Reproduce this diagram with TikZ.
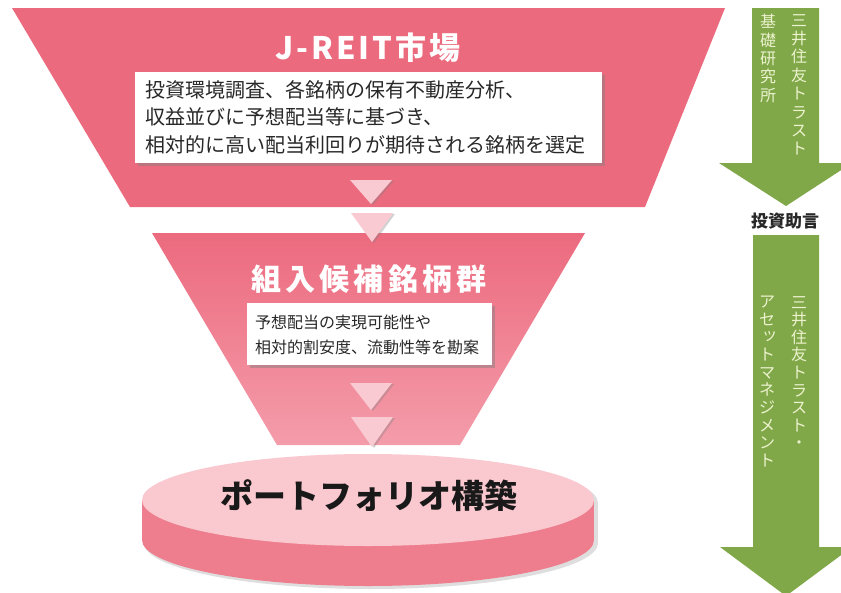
\documentclass[tikz,border=0pt]{standalone}
\usepackage{fontspec}
\newfontfamily\jp{Noto Sans CJK JP}
\usetikzlibrary{shadows}
\definecolor{funnel}{RGB}{236,106,126}
\definecolor{funnellight}{RGB}{244,156,170}
\definecolor{disktop}{RGB}{250,200,207}
\definecolor{diskside}{RGB}{238,126,142}
\definecolor{diskshade}{RGB}{222,222,222}
\definecolor{tri}{RGB}{249,202,210}
\definecolor{arrowgreen}{RGB}{128,168,72}
\definecolor{arrowtext}{RGB}{236,242,206}
\definecolor{boxtext}{RGB}{40,40,40}
\newcommand{\smalltsu}{\makebox[1em][l]{\hspace{0.16em}\raisebox{0.18em}{ッ}}}
\tikzset{
  infobox/.style={fill=white, draw=none, drop shadow={opacity=0.45, shadow xshift=3pt, shadow yshift=-3pt}},
  boxtxt/.style={anchor=west, align=left, inner sep=0pt, text=boxtext},
  title/.style={inner sep=0pt, text=white},
  tristyle/.style={fill=tri, drop shadow={opacity=0.35, shadow xshift=2pt, shadow yshift=-1pt}},
  greenarrow/.style={fill=arrowgreen},
  diskshadow/.style={fill=diskshade},
  vtext/.style={anchor=north, align=center, inner sep=0pt, text=arrowtext, font=\jp\fontsize{16pt}{18.4pt}\selectfont}
}
\begin{document}
\begin{tikzpicture}[x=1pt,y=-1pt]
\useasboundingbox (0,0) rectangle (841,592);
\clip (0,0) rectangle (841,592);
\fill[white] (0,0) rectangle (841,592);

% top funnel
\fill[funnel] (12,8) -- (725,8) -- (645,207) -- (130,207) -- cycle;
\node[title, font=\jp\bfseries\addfontfeature{LetterSpace=10}\fontsize{31pt}{31pt}\selectfont] (t1) at (368,48) {J-REIT市場};
\fill[infobox] (135,72) rectangle (602,163);
\node[boxtxt, font=\jp\fontsize{20pt}{27.5pt}\selectfont] (b1) at (145,117)
  {投資環境調査、各銘柄の保有不動産分析、\\収益並びに予想配当等に基づき、\\相対的に高い配当利回りが期待される銘柄を選定};
\fill[tristyle] (350,180) -- (392,180) -- (371,204) -- cycle;

% second funnel
\shade[top color=funnel, bottom color=funnellight] (152,233) -- (585,233) -- (460,445) -- (277,445) -- cycle;
\fill[tristyle] (351,213) -- (393,213) -- (372,242) -- cycle;
\node[title, font=\jp\bfseries\addfontfeature{LetterSpace=14}\fontsize{30pt}{30pt}\selectfont] (t2) at (369,279) {組入候補銘柄群};
\fill[infobox] (247,303) rectangle (492,365);
\node[boxtxt, font=\jp\fontsize{16pt}{25pt}\selectfont] (b2) at (255,334.5)
  {予想配当の実現可能性や\\相対的割安度、流動性等を勘案};
\fill[tristyle] (350,383) -- (392,383) -- (371,410) -- cycle;

% disk
\fill[diskshadow] (371,503) ellipse [x radius=227, y radius=46];
\fill[diskshadow] (144,503) rectangle (598,543);
\fill[diskshadow] (371,543) ellipse [x radius=227, y radius=46];
\fill[diskside] (368,540) ellipse [x radius=226, y radius=46];
\fill[diskside] (142,500) rectangle (594,540);
\fill[disktop] (368,500) ellipse [x radius=226, y radius=46];
\fill[tristyle] (351,417) -- (393,417) -- (372,447) -- cycle;
\node[inner sep=0pt, text=black!90, font=\jp\bfseries\fontsize{33pt}{33pt}\selectfont] (p) at (369,496) {ポートフォリオ構築};

% green arrows
\fill[greenarrow] (752,8) -- (819,8) -- (819,163) -- (852,163) -- (786,206) -- (719,163) -- (752,163) -- cycle;
\node[vtext] (a1r) at (799,14) {三\\井\\住\\友\\ト\\ラ\\ス\\ト};
\node[vtext] (a1l) at (768,14) {基\\礎\\研\\究\\所};
\node[inner sep=0pt, text=boxtext, font=\jp\bfseries\fontsize{17pt}{17pt}\selectfont] (adv) at (785,221) {投資助言};
\fill[greenarrow] (753,235) -- (819,235) -- (819,547) -- (852,547) -- (786,596) -- (720,547) -- (753,547) -- cycle;
\node[vtext, font=\jp\fontsize{16pt}{17.6pt}\selectfont] (a2r) at (799,296) {三\\井\\住\\友\\ト\\ラ\\ス\\ト\\・};
\node[vtext, font=\jp\fontsize{16pt}{17.6pt}\selectfont] (a2l) at (767,296) {ア\\セ\\\smalltsu\\ト\\マ\\ネ\\ジ\\メ\\ン\\ト};
\end{tikzpicture}
\end{document}
